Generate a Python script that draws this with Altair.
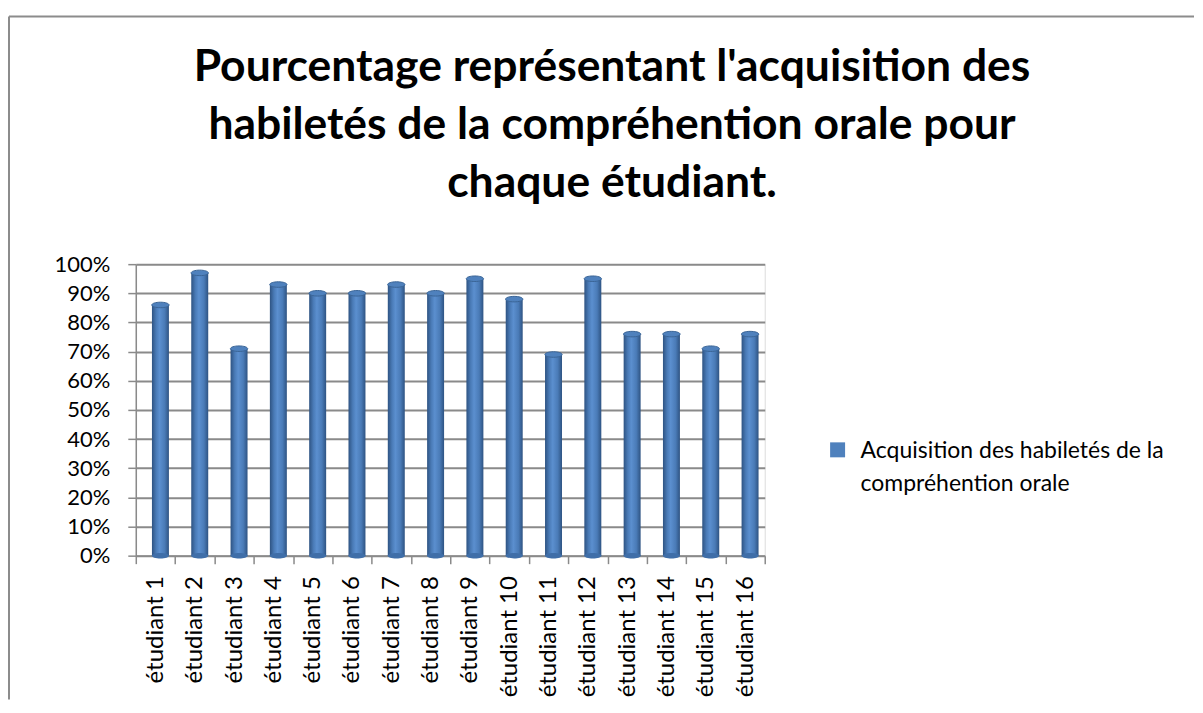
import altair as alt
import pandas as pd

students = ["étudiant 1", "étudiant 2", "étudiant 3", "étudiant 4", "étudiant 5",
            "étudiant 6", "étudiant 7", "étudiant 8", "étudiant 9", "étudiant 10",
            "étudiant 11", "étudiant 12", "étudiant 13", "étudiant 14", "étudiant 15",
            "étudiant 16"]
values = [0.86, 0.97, 0.71, 0.93, 0.90, 0.90, 0.93, 0.90, 0.95, 0.88,
          0.69, 0.95, 0.76, 0.76, 0.71, 0.76]
series_name = "Acquisition des habiletés de la compréhention orale"
legend_lines = ["Acquisition des habiletés de la", "compréhention orale"]
title_lines = ["Pourcentage représentant l'acquisition des",
               "habiletés de la compréhention orale pour",
               "chaque étudiant."]
y_ticks = [0, 0.1, 0.2, 0.3, 0.4, 0.5, 0.6, 0.7, 0.8, 0.9, 1.0]

df = pd.DataFrame({"etudiant": students, "valeur": values, "serie": series_name})

FONT = "Lato"
BLUE = "#4F81BD"
GRID = "#8a8a8a"

x_enc = alt.X(
    "etudiant:N", sort=students,
    scale=alt.Scale(paddingInner=0, paddingOuter=0),
    axis=alt.Axis(title=None, labelAngle=-90, labelFont=FONT, labelFontSize=24,
                  labelColor="black", labelPadding=12, tickBand="extent",
                  tickColor=GRID, tickSize=8, tickWidth=1.5, domainColor=GRID,
                  domainWidth=1.5, grid=False),
)
y_scale = alt.Scale(domain=[0, 1])
y_axis = alt.Axis(title=None, format="%", values=y_ticks, labelFont=FONT,
                  labelFontSize=22, labelColor="black", labelPadding=18,
                  labelOverlap=False, tickColor=GRID, tickSize=8, tickWidth=1.5,
                  domainColor=GRID, domainWidth=1.5, grid=True,
                  gridColor=GRID, gridWidth=2)
y_enc = alt.Y("valeur:Q", scale=y_scale, axis=y_axis)

base = alt.Chart(df)

bars = base.mark_bar(
    size=17, xOffset=5,
    color=alt.Gradient(
        gradient="linear", x1=0, x2=1, y1=0, y2=0,
        stops=[alt.GradientStop(color="#2e5382", offset=0),
               alt.GradientStop(color="#4a7bb7", offset=0.25),
               alt.GradientStop(color="#5b8fcf", offset=0.45),
               alt.GradientStop(color="#4a7bb7", offset=0.75),
               alt.GradientStop(color="#2e5382", offset=1)],
    ),
).encode(x=x_enc, y=y_enc)

ellipse = "M -1 0 A 1 0.32 0 1 1 1 0 A 1 0.32 0 1 1 -1 0 Z"

caps = base.mark_point(shape=ellipse, size=300, filled=True, opacity=1, xOffset=5,
                       stroke="#3a6496", strokeWidth=1).encode(
    x=x_enc,
    y=y_enc,
    color=alt.Color("serie:N", scale=alt.Scale(range=[BLUE]),
                    legend=alt.Legend(title=legend_lines, titleOrient="right",
                                      titleAnchor="start", titleBaseline="top",
                                      titleFont=FONT, titleFontSize=23,
                                      titleFontWeight="normal", titleColor="black",
                                      titleLineHeight=33, titlePadding=13,
                                      titleLimit=500,
                                      orient="none", legendX=693, legendY=176,
                                      symbolType="square", symbolSize=225,
                                      symbolStrokeWidth=0, labelExpr="''",
                                      labelFontSize=20, labelOffset=0)),
)

bottoms = base.mark_point(shape=ellipse, size=300, filled=True, opacity=1, xOffset=5,
                          color="#3f6ea8").encode(
    x=x_enc,
    y=alt.YDatum(0, scale=y_scale, axis=y_axis),
)

frame_data = alt.Data(values=[{"k": 1}])
left_line = alt.Chart(frame_data).mark_rule(color="#8c8c8c", strokeWidth=2).encode(
    x=alt.value(-127), y=alt.value(-248), y2=alt.value(436))
top_line = alt.Chart(frame_data).mark_rule(color="#8c8c8c", strokeWidth=2).encode(
    x=alt.value(-127), x2=alt.value(1060), y=alt.value(-248))

chart = alt.layer(bars, bottoms, caps, left_line, top_line).properties(
    width=630, height=292,
    padding={"left": 0, "top": 7, "right": 0, "bottom": 0},
    title=alt.TitleParams(
        title_lines,
        font=FONT, fontSize=44.5, fontWeight="bold", color="black",
        anchor="middle", dx=162, offset=-191, lineHeight=58,
    ),
).configure_view(stroke=None).configure(background="white")

chart.save("out.html", embed_options={"renderer": "svg", "actions": False})
